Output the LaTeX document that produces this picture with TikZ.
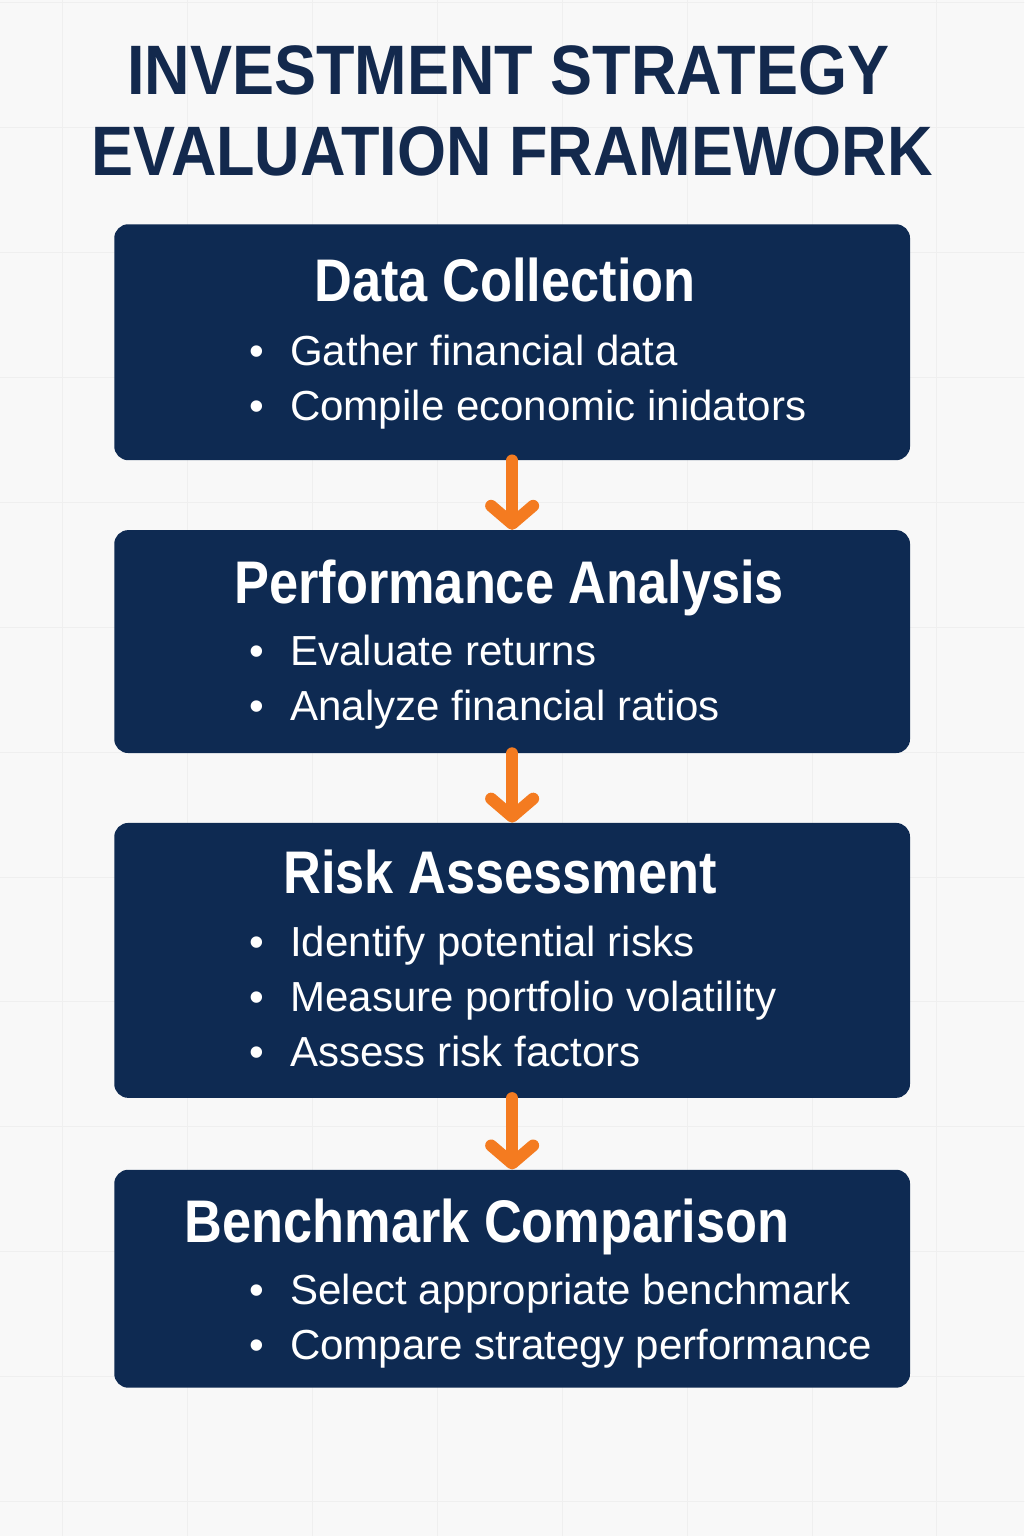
\documentclass[tikz,border=0pt]{standalone}
\usepackage{fontspec}
\setmainfont{Liberation Sans}
\newfontfamily\titlefont[FakeStretch=0.9]{Liberation Sans}
\newfontfamily\headfont[FakeStretch=0.87]{Liberation Sans}
\usetikzlibrary{arrows.meta}
\definecolor{navy}{HTML}{0E2A52}
\definecolor{titleblue}{HTML}{13294D}
\definecolor{flow}{HTML}{F47B20}
\definecolor{paper}{HTML}{F8F8F8}
\definecolor{gridgray}{HTML}{EFEFEF}
\begin{document}
\begin{tikzpicture}[x=0.025cm,y=-0.025cm,line join=round,line cap=round,
		stagebox/.style={fill=navy,rounded corners=0.35cm,minimum width=19.9cm,inner sep=0pt},
		titletext/.style={font=\titlefont\bfseries\fontsize{49.8}{56}\selectfont,text=titleblue,inner sep=0pt},
		headtext/.style={font=\headfont\bfseries\fontsize{42.8}{48}\selectfont,text=white,inner sep=0pt},
		itemtext/.style={font=\fontsize{29.9}{34}\selectfont,text=white,inner sep=0pt,anchor=base west},
		flowarrow/.style={draw=flow,line width=0.3cm,-{Straight Barb[round,length=0.45cm,width=1.05cm]}}]
	% background and faint grid
	\fill[paper] (0,0) rectangle (1024,1536);
	\foreach \g in {62,187,...,1024}{
		\draw[gridgray,line width=0.6pt] (\g,0) -- (\g,1536);
	}
	\foreach \g in {2,127,...,1536}{
		\draw[gridgray,line width=0.6pt] (0,\g) -- (1024,\g);
	}
	\useasboundingbox (0,0) rectangle (1024,1536);
	% title
	\node[titletext,anchor=base] (title1) at (508,94) {INVESTMENT STRATEGY};
	\node[titletext,anchor=base] (title2) at (512,175) {EVALUATION FRAMEWORK};
	% stages
	\node[stagebox,minimum height=5.9cm] (data) at (512,342) {};
	\node[stagebox,minimum height=5.575cm] (perf) at (512,641.5) {};
	\node[stagebox,minimum height=6.875cm] (risk) at (512,960.5) {};
	\node[stagebox,minimum height=5.45cm] (bench) at (512,1279) {};
	\foreach \n/\x/\y/\t in {datahead/505/301/Data Collection,
		perfhead/509/603/Performance Analysis,
		riskhead/500/894/Risk Assessment,
		benchhead/487/1243/Benchmark Comparison}{
		\node[headtext,anchor=base] (\n) at (\x,\y) {\t};
	}
	\foreach \n/\y/\t in {data1/365/Gather financial data,
		data2/420/Compile economic inidators,
		perf1/665/Evaluate returns,
		perf2/720/Analyze financial ratios,
		risk1/957/Identify potential risks,
		risk2/1012/Measure portfolio volatility,
		risk3/1067/Assess risk factors,
		bench1/1305/Select appropriate benchmark,
		bench2/1360/Compare strategy performance}{
		\node[itemtext] (\n) at (249,\y) {\textbullet\hspace{0.62em}\t};
	}
	% connectors
	\draw[flowarrow] (data.south) -- (perf.north);
	\draw[flowarrow] (perf.south) -- (risk.north);
	\draw[flowarrow] (risk.south) -- (bench.north);
\end{tikzpicture}
\end{document}
